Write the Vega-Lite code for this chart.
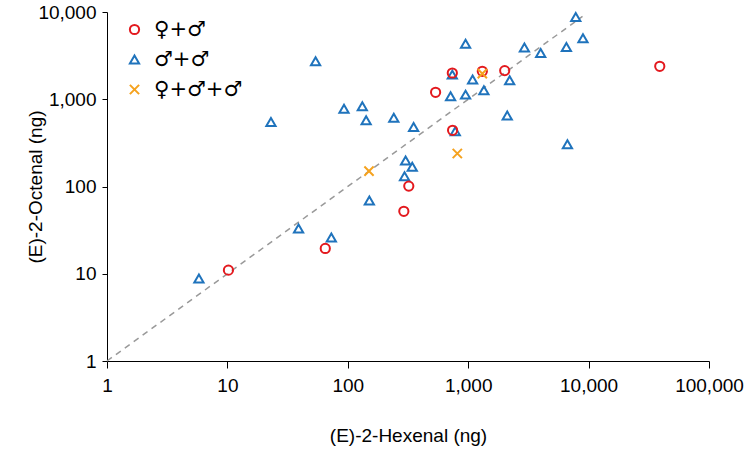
{
  "$schema": "https://vega.github.io/schema/vega-lite/v6.json",
  "width": 602,
  "height": 349,
  "autosize": "none",
  "padding": {"left": 107, "top": 12, "right": 41, "bottom": 90},
  "config": {
    "view": {"stroke": null},
    "font": "Liberation Sans",
    "axis": {
      "grid": false,
      "domainColor": "#000000",
      "tickColor": "#000000",
      "labelColor": "#000000",
      "titleColor": "#000000",
      "labelFontSize": 19,
      "titleFontSize": 19,
      "titleFontWeight": "normal",
      "labelFlush": false,
      "labelOverlap": false
    }
  },
  "datasets": {
    "points": [
      {"group": "♂+♂", "x": 5.8, "y": 8.8},
      {"group": "♂+♂", "x": 39, "y": 33},
      {"group": "♂+♂", "x": 73, "y": 26},
      {"group": "♂+♂", "x": 23, "y": 550},
      {"group": "♂+♂", "x": 54, "y": 2720},
      {"group": "♂+♂", "x": 93, "y": 780},
      {"group": "♂+♂", "x": 132, "y": 830},
      {"group": "♂+♂", "x": 142, "y": 575},
      {"group": "♂+♂", "x": 241, "y": 612},
      {"group": "♂+♂", "x": 352, "y": 482},
      {"group": "♂+♂", "x": 302, "y": 199},
      {"group": "♂+♂", "x": 343, "y": 168},
      {"group": "♂+♂", "x": 296, "y": 131},
      {"group": "♂+♂", "x": 151, "y": 69},
      {"group": "♂+♂", "x": 781, "y": 430},
      {"group": "♂+♂", "x": 6670, "y": 305},
      {"group": "♂+♂", "x": 2110, "y": 650},
      {"group": "♂+♂", "x": 7820, "y": 8770},
      {"group": "♂+♂", "x": 8980, "y": 4990},
      {"group": "♂+♂", "x": 6540, "y": 3975},
      {"group": "♂+♂", "x": 4000, "y": 3395},
      {"group": "♂+♂", "x": 2930, "y": 3930},
      {"group": "♂+♂", "x": 951, "y": 4335},
      {"group": "♂+♂", "x": 738, "y": 1915},
      {"group": "♂+♂", "x": 1088, "y": 1680},
      {"group": "♂+♂", "x": 2210, "y": 1650},
      {"group": "♂+♂", "x": 714, "y": 1080},
      {"group": "♂+♂", "x": 951, "y": 1130},
      {"group": "♂+♂", "x": 1350, "y": 1265},
      {"group": "♀+♂", "x": 10.2, "y": 11},
      {"group": "♀+♂", "x": 65, "y": 19.5},
      {"group": "♀+♂", "x": 292, "y": 52},
      {"group": "♀+♂", "x": 321, "y": 101},
      {"group": "♀+♂", "x": 742, "y": 441},
      {"group": "♀+♂", "x": 536, "y": 1200},
      {"group": "♀+♂", "x": 738, "y": 2000},
      {"group": "♀+♂", "x": 1310, "y": 2090},
      {"group": "♀+♂", "x": 2010, "y": 2130},
      {"group": "♀+♂", "x": 39000, "y": 2385},
      {"group": "♀+♂+♂", "x": 150, "y": 150},
      {"group": "♀+♂+♂", "x": 812, "y": 239},
      {"group": "♀+♂+♂", "x": 1310, "y": 1967}
    ],
    "diag": [
      {"x": 1, "y": 1},
      {"x": 8900, "y": 8900}
    ]
  },
  "encoding": {
    "x": {
      "field": "x",
      "type": "quantitative",
      "scale": {"type": "log", "domain": [1, 100000], "nice": false},
      "axis": {
        "title": "(E)-2-Hexenal (ng)",
        "values": [1, 10, 100, 1000, 10000, 100000],
        "format": ",.0f",
        "tickSize": 7,
        "labelPadding": 8,
        "titleY": 74,
        "titleBaseline": "middle"
      }
    },
    "y": {
      "field": "y",
      "type": "quantitative",
      "scale": {"type": "log", "domain": [1, 10000], "nice": false},
      "axis": {
        "title": "(E)-2-Octenal (ng)",
        "values": [1, 10, 100, 1000, 10000],
        "format": ",.0f",
        "tickSize": 5,
        "labelPadding": 6,
        "titleX": -72,
        "titleY": 174.5,
        "titleAngle": 270,
        "titleAlign": "center",
        "titleBaseline": "middle"
      }
    }
  },
  "layer": [
    {
      "data": {"name": "diag"},
      "mark": {"type": "line", "color": "#999999", "strokeDash": [6, 5], "strokeWidth": 1.5}
    },
    {
      "data": {"name": "points"},
      "mark": {"type": "point", "filled": false, "strokeWidth": 2, "size": 85, "opacity": 1},
      "encoding": {
        "shape": {
          "field": "group",
          "type": "nominal",
          "scale": {
            "domain": ["♀+♂", "♂+♂", "♀+♂+♂"],
            "range": ["circle", "triangle-up", "M-1,-1L1,1M-1,1L1,-1"]
          },
          "legend": {
            "orient": "none",
            "legendX": 17,
            "legendY": 7,
            "title": null,
            "padding": 0,
            "labelFont": "DejaVu Sans",
            "labelFontSize": 21,
            "labelColor": "#000000",
            "symbolStrokeWidth": 2,
            "symbolSize": 85,
            "rowPadding": 8,
            "labelOffset": 9
          }
        },
        "color": {
          "field": "group",
          "type": "nominal",
          "scale": {
            "domain": ["♀+♂", "♂+♂", "♀+♂+♂"],
            "range": ["#E3191E", "#1F73BC", "#F5A21E"]
          },
          "legend": {
            "orient": "none",
            "legendX": 17,
            "legendY": 7,
            "title": null,
            "padding": 0,
            "labelFont": "DejaVu Sans",
            "labelFontSize": 21,
            "labelColor": "#000000",
            "symbolStrokeWidth": 2,
            "symbolSize": 85,
            "rowPadding": 8,
            "labelOffset": 9
          }
        }
      }
    }
  ]
}
